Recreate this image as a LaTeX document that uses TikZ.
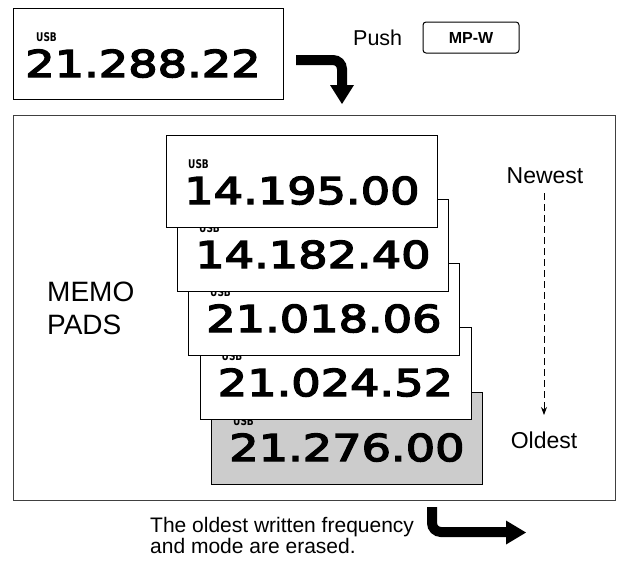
\documentclass[tikz,border=0pt]{standalone}
\usepackage{fontspec}
\setmainfont{Liberation Sans}
\newfontfamily\lcdfont[FakeStretch=1.25,FakeBold=4]{DejaVu Sans}
\newfontfamily\usbfont[FakeStretch=0.75]{DejaVu Sans Bold}
\usetikzlibrary{arrows.meta,calc}
\definecolor{padgray}{HTML}{CCCCCC}
\newcommand\memopad[5]{%
  \node[panel, fill=#5, minimum width=271pt, minimum height=92pt, anchor=north west] (#1) at (#2,#3) {};
  \node[usblabel] (#1u) at ($(#1.north west)+(22,33.5)$) {USB};
  \node[lcd] (#1f) at ($(#1.north)+(0,69)$) {#4};
}
\begin{document}
\begin{tikzpicture}[x=1pt,y=-1pt,
  panel/.style={draw=black, line width=0.9pt, fill=white, inner sep=0pt},
  lcd/.style={font=\lcdfont\fontsize{37}{37}\selectfont, inner sep=0pt, anchor=base},
  usblabel/.style={font=\usbfont\fontsize{12}{12}\selectfont, inner sep=0pt, anchor=base west},
  plain/.style={inner sep=0pt},
  bigarrow/.style={line width=10pt, rounded corners=9pt},
  ]
\useasboundingbox (0,0) rectangle (630,565);

% current display
\node[panel, minimum width=270pt, minimum height=91pt, anchor=north west] (cur) at (13,8) {};
\node[usblabel] (curu) at (36,41.5) {USB};
\node[lcd] (curf) at (143,77) {21.288.22};

% push arrow
\coordinate (a1s) at (296,60);
\coordinate (a1c) at (342,60);
\coordinate (a1e) at (342,87);
\draw[bigarrow] (a1s) -- (a1c) -- (a1e);
\fill (330,85) -- (354,85) -- (342,104) -- cycle;

\node[plain, anchor=base west, font=\fontsize{21.5}{21.5}\selectfont] (push) at (353,45) {Push};
\node[draw, line width=1pt, rounded corners=3pt, minimum width=96pt, minimum height=31pt, inner sep=0pt,
      font=\bfseries\fontsize{16}{16}\selectfont] (mpw) at (471,37.5) {MP-W};

% memo pads frame
\node[draw=black!75, line width=1.3pt, minimum width=602pt, minimum height=385pt, anchor=north west, inner sep=0pt] (frame) at (13,115) {};

\node[plain, anchor=north west, align=left, font=\fontsize{28}{33}\selectfont] (memo) at (47,281.5) {MEMO\\PADS};

% stacked pads (bottom first)
\memopad{p5}{211}{392}{21.276.00}{padgray}
\memopad{p4}{199.5}{327}{21.024.52}{white}
\memopad{p3}{188}{263}{21.018.06}{white}
\memopad{p2}{177}{199}{14.182.40}{white}
\memopad{p1}{166}{135}{14.195.00}{white}

% newest / oldest
\node[plain, anchor=base, font=\fontsize{23}{23}\selectfont] (newest) at (545,183) {Newest};
\node[plain, anchor=base, font=\fontsize{23}{23}\selectfont] (oldest) at (544,448) {Oldest};
\coordinate (dtop) at (544,193);
\coordinate (dbot) at (544,415);
\draw[line width=0.8pt, dash pattern=on 7pt off 4pt, -{Stealth[length=8pt,width=6pt]}] (dtop) -- (dbot);

% bottom note
\node[plain, anchor=north west, align=left, font=\fontsize{21}{19.5}\selectfont] (note) at (150,517.5)
  {The oldest written frequency\\and mode are erased.};

\coordinate (b1s) at (432,507);
\coordinate (b1c) at (432,532);
\coordinate (b1e) at (508,532);
\draw[bigarrow] (b1s) -- (b1c) -- (b1e);
\fill (506,520.5) -- (506,544.5) -- (526,532.5) -- cycle;
\end{tikzpicture}
\end{document}
